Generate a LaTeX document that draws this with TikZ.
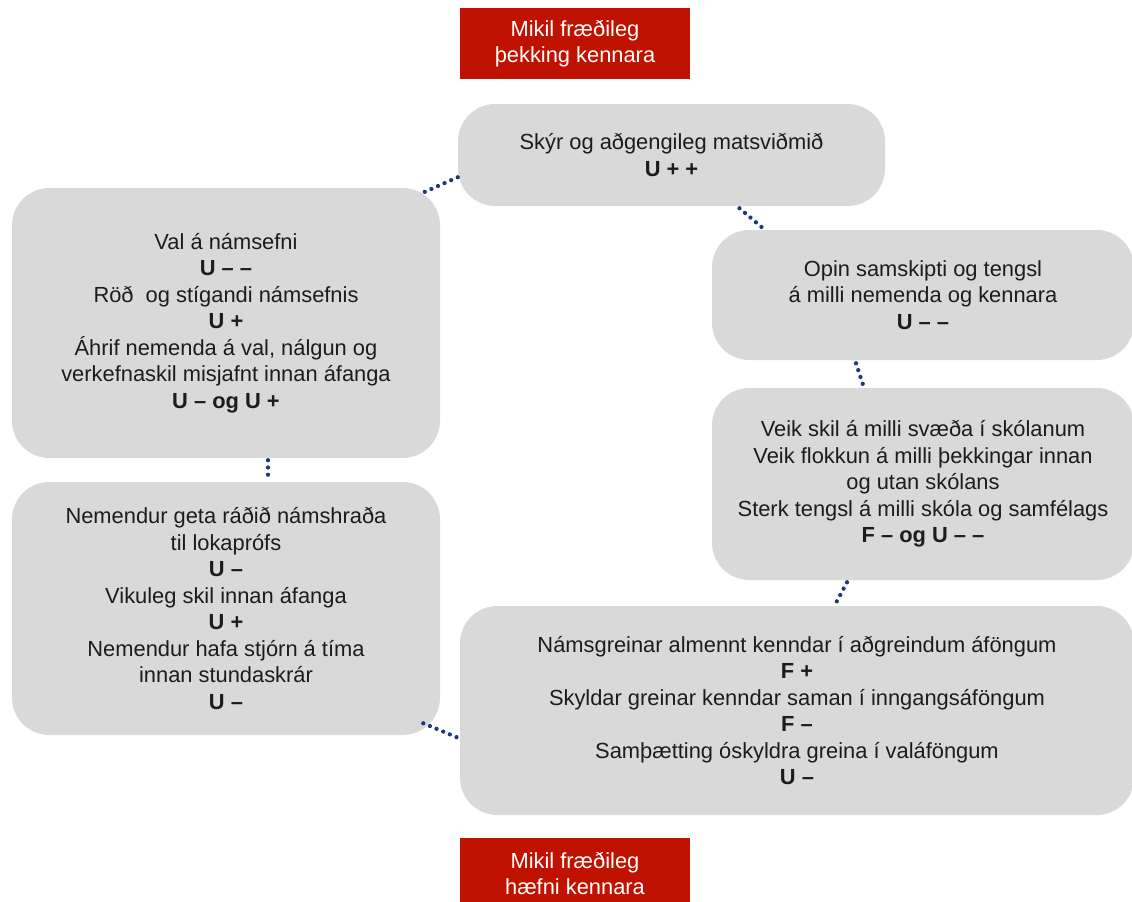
\documentclass[tikz,border=0pt]{standalone}
\usepackage{fontspec}
\setmainfont{Liberation Sans}
\definecolor{boxgray}{RGB}{217,217,217}
\definecolor{boxred}{RGB}{192,18,0}
\definecolor{dotblue}{RGB}{31,56,120}
\definecolor{textgray}{RGB}{28,28,28}

\begin{document}
\begin{tikzpicture}[x=0.75pt,y=-0.75pt]
        \tikzset{topic/.style = {shape=rectangle, fill=boxgray, rounded corners=28pt,
                align=center, text=textgray, inner sep=0pt,
                font=\fontsize{16.4}{19.9}\selectfont}}
        \tikzset{goal/.style = {shape=rectangle, fill=boxred, align=center, text=white,
                inner sep=0pt, minimum width=172.5pt, minimum height=53.25pt,
                font=\fontsize{16.4}{19.9}\selectfont}}
        \tikzset{link/.style = {draw=dotblue, line width=3.2pt, line cap=round,
                dash pattern=on 0pt off 5.4pt}}

        \useasboundingbox (0,0) rectangle (1132,901);

        \node[goal] (thekking) at (575, 43.5) {Mikil fræðileg\\þekking kennara};
        \node[goal] (haefni) at (575, 873.5) {Mikil fræðileg\\hæfni kennara};

        \node[topic, minimum width=320.25pt, minimum height=76.5pt] (matsvid) at (671.5, 155)
                {Skýr og aðgengileg matsviðmið\\\textbf{U + +}};
        \node[topic, minimum width=321pt, minimum height=202.5pt] (namsefni) at (226, 323)
                {Val á námsefni\\\textbf{U – –}\\Röð\ \ og stígandi námsefnis\\\textbf{U +}\\
                 Áhrif nemenda á val, nálgun og\\verkefnaskil misjafnt innan áfanga\\
                 \textbf{U – og U +}};
        \node[topic, minimum width=316.5pt, minimum height=97.5pt] (samskipti) at (923, 295)
                {Opin samskipti og tengsl\\á milli nemenda og kennara\\\textbf{U – –}};
        \node[topic, minimum width=316.5pt, minimum height=144pt] (skil) at (923, 484)
                {Veik skil á milli svæða í skólanum\\Veik flokkun á milli þekkingar innan\\
                 og utan skólans\\Sterk tengsl á milli skóla og samfélags\\
                 \textbf{F – og U – –}};
        \node[topic, minimum width=321pt, minimum height=189.75pt] (hradi) at (226, 608.5)
                {Nemendur geta ráðið námshraða\\til lokaprófs\\\textbf{U –}\\
                 Vikuleg skil innan áfanga\\\textbf{U +}\\Nemendur hafa stjórn á tíma\\
                 innan stundaskrár\\\textbf{U –}};
        \node[topic, minimum width=505.5pt, minimum height=156.75pt] (greinar) at (797, 710.5)
                {Námsgreinar almennt kenndar í aðgreindum áföngum\\\textbf{F +}\\
                 Skyldar greinar kenndar saman í inngangsáföngum\\\textbf{F –}\\
                 Samþætting óskyldra greina í valáföngum\\\textbf{U –}};

        \draw[link] ([shift={(0,-29)}]matsvid.south west) to ([shift={(-22,7)}]namsefni.north east);
        \draw[link] ([shift={(68,2)}]matsvid.south) to ([shift={(53,0)}]samskipti.north west);
        \draw[link] ([shift={(-67,3)}]samskipti.south) to ([shift={(-60,-3)}]skil.north);
        \draw[link] ([shift={(-76,2)}]skil.south) to ([shift={(38,-1)}]greinar.north);
        \draw[link] ([shift={(42,2)}]namsefni.south) to ([shift={(42,-2)}]hradi.north);
        \draw[link] ([shift={(-17,-12)}]hradi.south east) to ([shift={(0,28)}]greinar.west);
\end{tikzpicture}
\end{document}
